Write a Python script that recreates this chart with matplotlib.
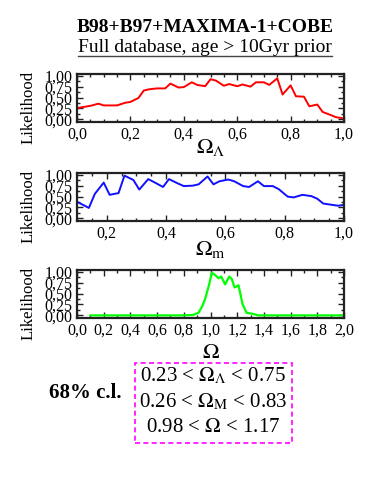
import matplotlib
matplotlib.use("Agg")
import matplotlib.pyplot as plt
from matplotlib.ticker import MultipleLocator, FuncFormatter
from matplotlib.patches import Rectangle
from matplotlib.lines import Line2D

plt.rcParams['font.family'] = ['Liberation Serif', 'DejaVu Serif']
plt.rcParams['mathtext.fontset'] = 'stix'

# ---- data ----
omega_lambda_x = [0.0, 0.05, 0.08, 0.10, 0.15, 0.18, 0.20, 0.23, 0.25, 0.27, 0.30, 0.33,
                  0.35, 0.38, 0.40, 0.43, 0.45, 0.48, 0.50, 0.52, 0.55, 0.57, 0.60, 0.62,
                  0.65, 0.67, 0.70, 0.72, 0.75, 0.77, 0.80, 0.82, 0.85, 0.87, 0.90, 0.92,
                  0.95, 0.97, 1.00]
omega_lambda_y = [0.26, 0.31, 0.36, 0.32, 0.32, 0.38, 0.40, 0.49, 0.66, 0.69, 0.71, 0.71,
                  0.82, 0.73, 0.74, 0.85, 0.79, 0.76, 0.92, 0.89, 0.77, 0.81, 0.76, 0.80,
                  0.75, 0.85, 0.85, 0.79, 0.94, 0.57, 0.78, 0.53, 0.52, 0.30, 0.34, 0.17,
                  0.10, 0.05, 0.02]

omega_m_x = [0.10, 0.14, 0.16, 0.19, 0.21, 0.24, 0.26, 0.29, 0.31, 0.34, 0.36, 0.39,
             0.41, 0.44, 0.46, 0.49, 0.51, 0.54, 0.56, 0.58, 0.61, 0.63, 0.66, 0.68,
             0.71, 0.73, 0.76, 0.78, 0.81, 0.83, 0.86, 0.89, 0.91, 0.93, 0.96, 0.98, 1.00]
omega_m_y = [0.38, 0.24, 0.56, 0.82, 0.54, 0.58, 0.98, 0.88, 0.66, 0.90, 0.83, 0.72,
             0.90, 0.80, 0.74, 0.75, 0.78, 0.96, 0.78, 0.85, 0.89, 0.85, 0.74, 0.72,
             0.85, 0.74, 0.74, 0.67, 0.50, 0.48, 0.54, 0.51, 0.45, 0.34, 0.31, 0.29, 0.31]

omega_x = [0.10, 0.80, 0.87, 0.91, 0.94, 0.96, 0.99, 1.01, 1.04, 1.06, 1.08, 1.11,
           1.14, 1.16, 1.18, 1.21, 1.24, 1.27, 1.31, 1.36, 1.50, 2.00]
omega_y = [0.00, 0.00, 0.01, 0.06, 0.22, 0.38, 0.71, 0.98, 0.91, 0.85, 0.89, 0.71,
           0.89, 0.83, 0.64, 0.69, 0.26, 0.06, 0.04, 0.00, 0.00, 0.00]

yticks = [0.0, 0.25, 0.5, 0.75, 1.0]
cl_lines = [r"0.23 < $\Omega_\Lambda$ < 0.75",
            r"0.26 < $\Omega_\mathrm{M}$ < 0.83",
            r"0.98 < $\Omega$ < 1.17"]

W, H = 382, 491
fig = plt.figure(figsize=(W / 100, H / 100), dpi=100)


def ax_at(left, top, right, bottom):
    return fig.add_axes([left / W, 1 - bottom / H, (right - left) / W, (bottom - top) / H])


def style(ax, xlim, major, minor, xlabel, xlab_y):
    ax.set_xlim(*xlim)
    ax.set_ylim(-0.06, 1.04)
    ax.set_yticks(yticks)
    ax.yaxis.set_minor_locator(MultipleLocator(0.125))
    ax.xaxis.set_major_locator(MultipleLocator(major))
    ax.xaxis.set_minor_locator(MultipleLocator(minor))
    ax.xaxis.set_major_formatter(FuncFormatter(lambda v, p: f"{v:.1f}".replace('.', ',')))
    ax.yaxis.set_major_formatter(FuncFormatter(lambda v, p: f"{v:.2f}".replace('.', ',')))
    ax.tick_params(which='both', direction='in', top=True, right=True, labelsize=11.5,
                   width=1.0, colors='#222222', labelcolor='black')
    ax.tick_params(which='major', length=4, pad=3)
    ax.tick_params(which='minor', length=2)
    for s in ax.spines.values():
        s.set_linewidth(1.6)
        s.set_color('#222222')
    ax.set_ylabel("Likelihood", fontsize=12)
    ax.yaxis.set_label_coords(-0.15, 0.31)
    ax.set_xlabel(xlabel, fontsize=16)
    ax.xaxis.set_label_coords(0.5, xlab_y)


ax1 = ax_at(77, 74, 344, 122)
ax1.plot(omega_lambda_x, omega_lambda_y, color='#ff0000', lw=1.4)
style(ax1, (0, 1), 0.2, 0.05, r"$\Omega_\Lambda$", -0.31)

ax2 = ax_at(77, 173, 344, 221)
ax2.plot(omega_m_x, omega_m_y, color='#1010ff', lw=1.4)
style(ax2, (0.1, 1.0), 0.2, 0.05, r"$\Omega_\mathrm{m}$", -0.38)

ax3 = ax_at(77, 270, 344, 318)
ax3.plot(omega_x, omega_y, color='#00ff00', lw=1.6)
style(ax3, (0, 2), 0.2, 0.1, r"$\Omega$", -0.55)

# titles
fig.text(205 / W, 1 - 28 / H, "B98+B97+MAXIMA-1+COBE", ha='center', va='center',
         fontsize=14, fontweight='bold')
sub = fig.text(205 / W, 1 - 48 / H, "Full database, age > 10Gyr prior", ha='center',
               va='center', fontsize=14)

fig.canvas.draw()
bb = sub.get_window_extent()
uy = bb.y0 + 1
fig.add_artist(Line2D([bb.x0 / W, bb.x1 / W], [uy / H, uy / H], color='#444444', lw=1.0))

# confidence-limit box
fig.add_artist(Rectangle((135 / W, 1 - 443 / H), (292 - 135) / W, (443 - 363) / H,
                         fill=False, edgecolor='#ff00ff', lw=1.2, linestyle=(0, (3, 2))))
for i, t in enumerate(cl_lines):
    fig.text(213 / W, 1 - (376 + 26 * i) / H, t, ha='center', va='center', fontsize=15)
fig.text(85 / W, 1 - 393 / H, "68% c.l.", ha='center', va='center', fontsize=15,
         fontweight='bold')

fig.savefig("out.png", dpi=100)
